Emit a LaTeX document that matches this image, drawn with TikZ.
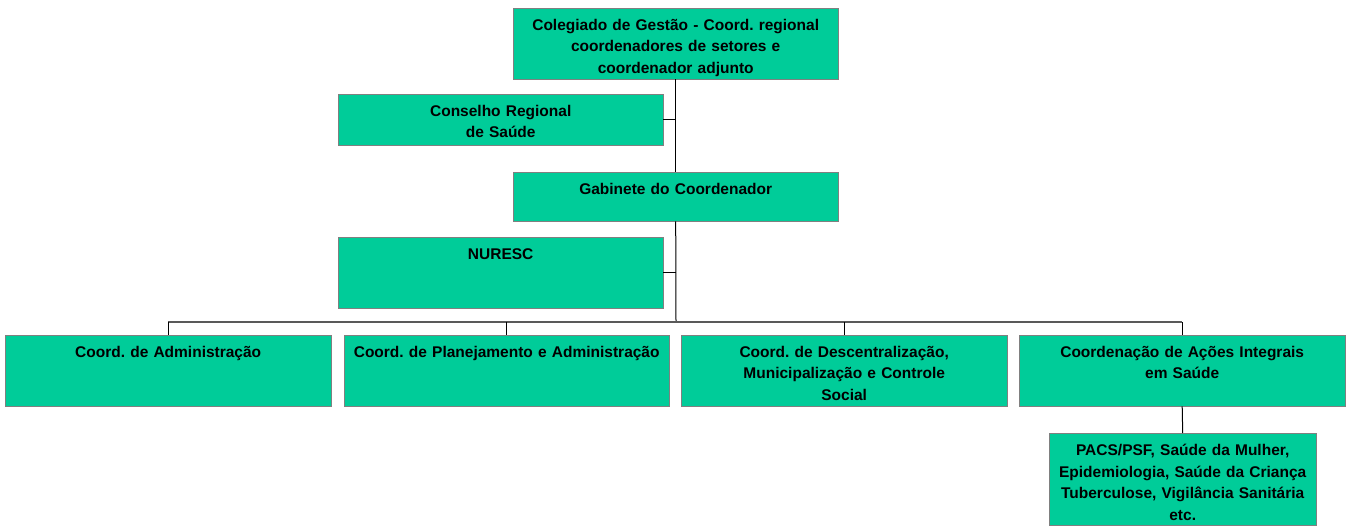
\documentclass[tikz,border=0pt]{standalone}
\usepackage{fontspec}
\setmainfont{Liberation Sans}
\frenchspacing
\definecolor{boxgreen}{HTML}{00CC99}
\definecolor{edgegray}{HTML}{808080}
\tikzset{
  unit/.style={draw=edgegray, fill=boxgreen, anchor=north west, align=center,
    inner xsep=3pt, inner ysep=10pt, text height=12pt,
    font=\fontsize{15.5}{21.8}\selectfont\bfseries},
  link/.style={line width=1pt},
  bus/.style={line width=1.3pt, draw=black!65}
}
\begin{document}
\begin{tikzpicture}[x=1pt, y=-1pt]
  \useasboundingbox (0,0) rectangle (1350,529);
  % levels
  \node[unit, text width=319pt, text depth=39pt] (colegiado) at (513,8)
    {Colegiado de Gestão - Coord. regional\\coordenadores de setores e\\coordenador adjunto};
  \node[unit, text width=319pt, text depth=19pt] (conselho) at (338,94)
    {Conselho Regional\\de Saúde};
  \node[unit, text width=319pt, text depth=17pt] (gabinete) at (513,172)
    {Gabinete do Coordenador};
  \node[unit, text width=319pt, text depth=39pt] (nuresc) at (338,237) {NURESC};
  \coordinate (bus) at (676,322);
  % coordenações
  \node[unit, text width=320pt, text depth=39pt] (admin) at (5,335)
    {Coord. de Administração};
  \node[unit, text width=319pt, text depth=39pt] (planej) at (344,335)
    {Coord. de Planejamento e Administração};
  \node[unit, text width=320pt, text depth=39pt] (descent) at (681,335)
    {Coord. de Descentralização,\\Municipalização e Controle\\Social};
  \node[unit, text width=320pt, text depth=39pt] (integral) at (1019,335)
    {Coordenação de Ações Integrais\\em Saúde};
  \node[unit, text width=261pt, text depth=60pt] (pacs) at (1049,433)
    {PACS/PSF, Saúde da Mulher,\\Epidemiologia, Saúde da Criança\\Tuberculose, Vigilância Sanitária\\etc.};
  % ligações
  \draw[link] (colegiado.south) -- (gabinete.north);
  \draw[link] (gabinete.south) -- (bus);
  \draw[link] (conselho.east) -- (conselho.east -| colegiado.south);
  \draw[link] (nuresc.east) -- (nuresc.east -| gabinete.south);
  \draw[bus] (admin.north |- bus) -- (integral.north |- bus);
  \draw[link] (admin.north) -- (admin.north |- bus);
  \draw[link] (planej.north) -- (planej.north |- bus);
  \draw[link] (descent.north) -- (descent.north |- bus);
  \draw[link] (integral.north) -- (integral.north |- bus);
  \draw[link] (integral.south) -- (pacs.north);
\end{tikzpicture}
\end{document}
